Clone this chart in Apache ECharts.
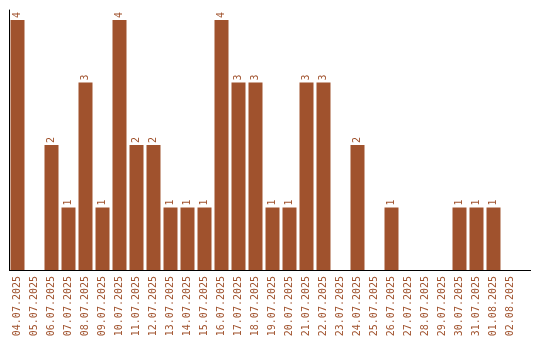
<!DOCTYPE html>
<html><head><meta charset="utf-8">
<script src="https://cdn.jsdelivr.net/npm/echarts@6/dist/echarts.min.js"></script>
<style>html,body{margin:0;padding:0;background:#fff}#c{width:540px;height:340px}</style>
</head><body><div id="c"></div>
<script>
const categories = ['04.07.2025','05.07.2025','06.07.2025','07.07.2025','08.07.2025','09.07.2025','10.07.2025','11.07.2025','12.07.2025','13.07.2025','14.07.2025','15.07.2025','16.07.2025','17.07.2025','18.07.2025','19.07.2025','20.07.2025','21.07.2025','22.07.2025','23.07.2025','24.07.2025','25.07.2025','26.07.2025','27.07.2025','28.07.2025','29.07.2025','30.07.2025','31.07.2025','01.08.2025','02.08.2025'];
const values = [4,0,2,1,3,1,4,2,2,1,1,1,4,3,3,1,1,3,3,0,2,0,1,0,0,0,1,1,1,0];

const color = '#A0522D';
const font = 'DejaVu Sans Mono';
const chart = echarts.init(document.getElementById('c'));
chart.setOption({
  animation: false,
  grid: {left: 9, top: 10, width: 510, bottom: 70, containLabel: false},
  xAxis: {
    type: 'category', data: categories,
    axisLine: {show: false},
    axisTick: {show: false},
    axisLabel: {rotate: 90, color: color, fontFamily: font, fontSize: 10, margin: 6, interval: 0}
  },
  yAxis: {
    type: 'value', min: 0, max: 4.16,
    axisLine: {show: true, lineStyle: {color: '#000', width: 1}},
    axisTick: {show: false}, axisLabel: {show: false}, splitLine: {show: false}
  },
  graphic: [{type: 'line', z: 10, shape: {x1: 9, y1: 270.5, x2: 531, y2: 270.5}, style: {stroke: '#000', lineWidth: 1}}],
  series: [{
    type: 'bar', data: values, barWidth: 14,
    itemStyle: {color: color},
    label: {show: true, position: 'top', rotate: 90, align: 'left', verticalAlign: 'middle', distance: 2,
      color: color, fontFamily: font, fontSize: 10,
      formatter: p => p.value ? String(p.value) : ''}
  }]
});
</script></body></html>
